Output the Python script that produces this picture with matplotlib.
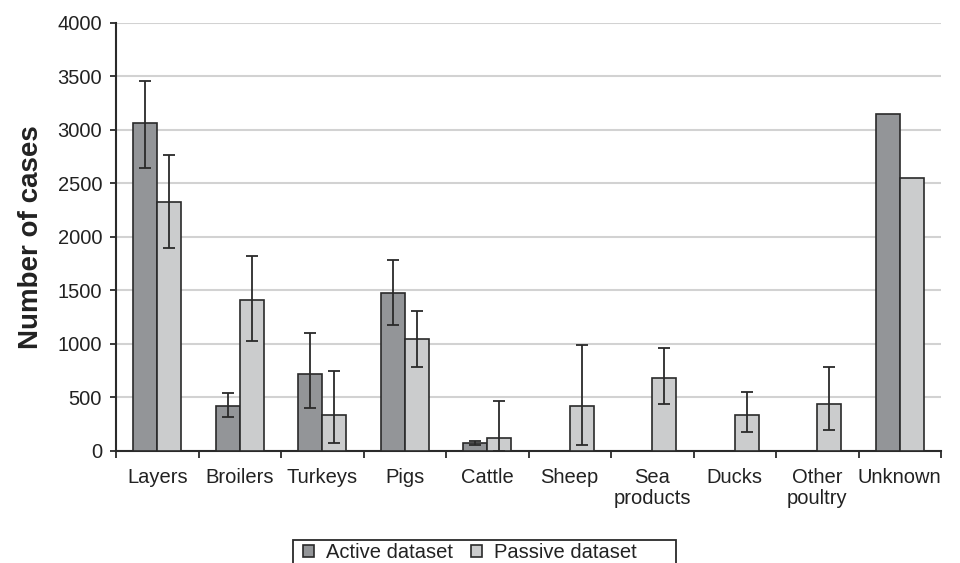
import numpy as np
import matplotlib.pyplot as plt
from matplotlib.patches import Rectangle

plt.rcParams['font.family'] = ['Liberation Sans', 'DejaVu Sans']

categories = ["Layers", "Broilers", "Turkeys", "Pigs", "Cattle", "Sheep",
              "Sea\nproducts", "Ducks", "Other\npoultry", "Unknown"]

active = [3060, 420, 716, 1480, 72, np.nan, np.nan, np.nan, np.nan, 3145]
active_lo = [420, 106, 315, 302, 15, np.nan, np.nan, np.nan, np.nan, np.nan]
active_hi = [395, 118, 382, 308, 18, np.nan, np.nan, np.nan, np.nan, np.nan]

passive = [2330, 1410, 336, 1045, 124, 420, 678, 336, 438, 2553]
passive_lo = [438, 387, 264, 261, 124, 367, 240, 162, 245, np.nan]
passive_hi = [431, 412, 410, 261, 345, 569, 280, 217, 346, np.nan]

yticks = [0, 500, 1000, 1500, 2000, 2500, 3000, 3500, 4000]

c_active = "#939598"
c_passive = "#cbcccd"
edge = "#2a2a2a"
txt = "#222222"

W, H = 960, 563
fig = plt.figure(figsize=(W / 100, H / 100), dpi=100)
ax = fig.add_axes([116 / W, 112 / H, (941 - 116) / W, (451 - 22.7) / H])

x = np.arange(len(categories))
w = 0.29

ax.bar(x - w / 2, active, w, color=c_active, edgecolor=edge, linewidth=1.2,
       label="Active dataset", zorder=3)
ax.bar(x + w / 2, passive, w, color=c_passive, edgecolor=edge, linewidth=1.2,
       label="Passive dataset", zorder=3)

err_kw = dict(fmt="none", ecolor=edge, elinewidth=1.3, capsize=4, capthick=1.3, zorder=4)
ax.errorbar(x - w / 2, active, yerr=[active_lo, active_hi], **err_kw)
ax.errorbar(x + w / 2, passive, yerr=[passive_lo, passive_hi], **err_kw)

ax.set_xlim(-0.5, len(categories) - 0.5)
ax.set_ylim(0, 4000)
ax.set_yticks(yticks)
ax.set_yticklabels([str(v) for v in yticks])
ax.grid(axis="y", color="#d2d2d2", linewidth=1.5, zorder=0)
ax.set_axisbelow(True)

ax.set_xticks(x)
ax.set_xticklabels(categories, fontsize=14.5, color=txt, linespacing=1.15)
ax.set_xticks(np.arange(len(categories) + 1) - 0.5, minor=True)
ax.tick_params(axis="x", which="major", length=0, pad=12)
ax.tick_params(axis="x", which="minor", length=5, width=1.3, color=edge, direction="out")
ax.tick_params(axis="y", length=4, width=1.3, color=edge, labelsize=14.5,
               labelcolor=txt, pad=6)

for s in ("top", "right"):
    ax.spines[s].set_visible(False)
for s in ("left", "bottom"):
    ax.spines[s].set_color(edge)
    ax.spines[s].set_linewidth(1.5)

ax.set_ylabel("Number of cases", fontsize=20, fontweight="bold", color=txt, labelpad=10)

# legend box runs past the lower edge of the figure
fig.patches.append(Rectangle((293 / W, (H - 575) / H), (676 - 293) / W, 35 / H,
                             transform=fig.transFigure, fill=False,
                             edgecolor=edge, linewidth=1.3))
leg = fig.legend(loc="upper center", bbox_to_anchor=(470 / W, 1 - 541 / H),
                 ncol=2, fontsize=14.5, frameon=False,
                 handlelength=0.55, handleheight=0.55,
                 handletextpad=0.6, columnspacing=0.9, borderpad=0.1,
                 borderaxespad=0.0)
for t in leg.get_texts():
    t.set_color(txt)

fig.savefig("out.png", dpi=100)
